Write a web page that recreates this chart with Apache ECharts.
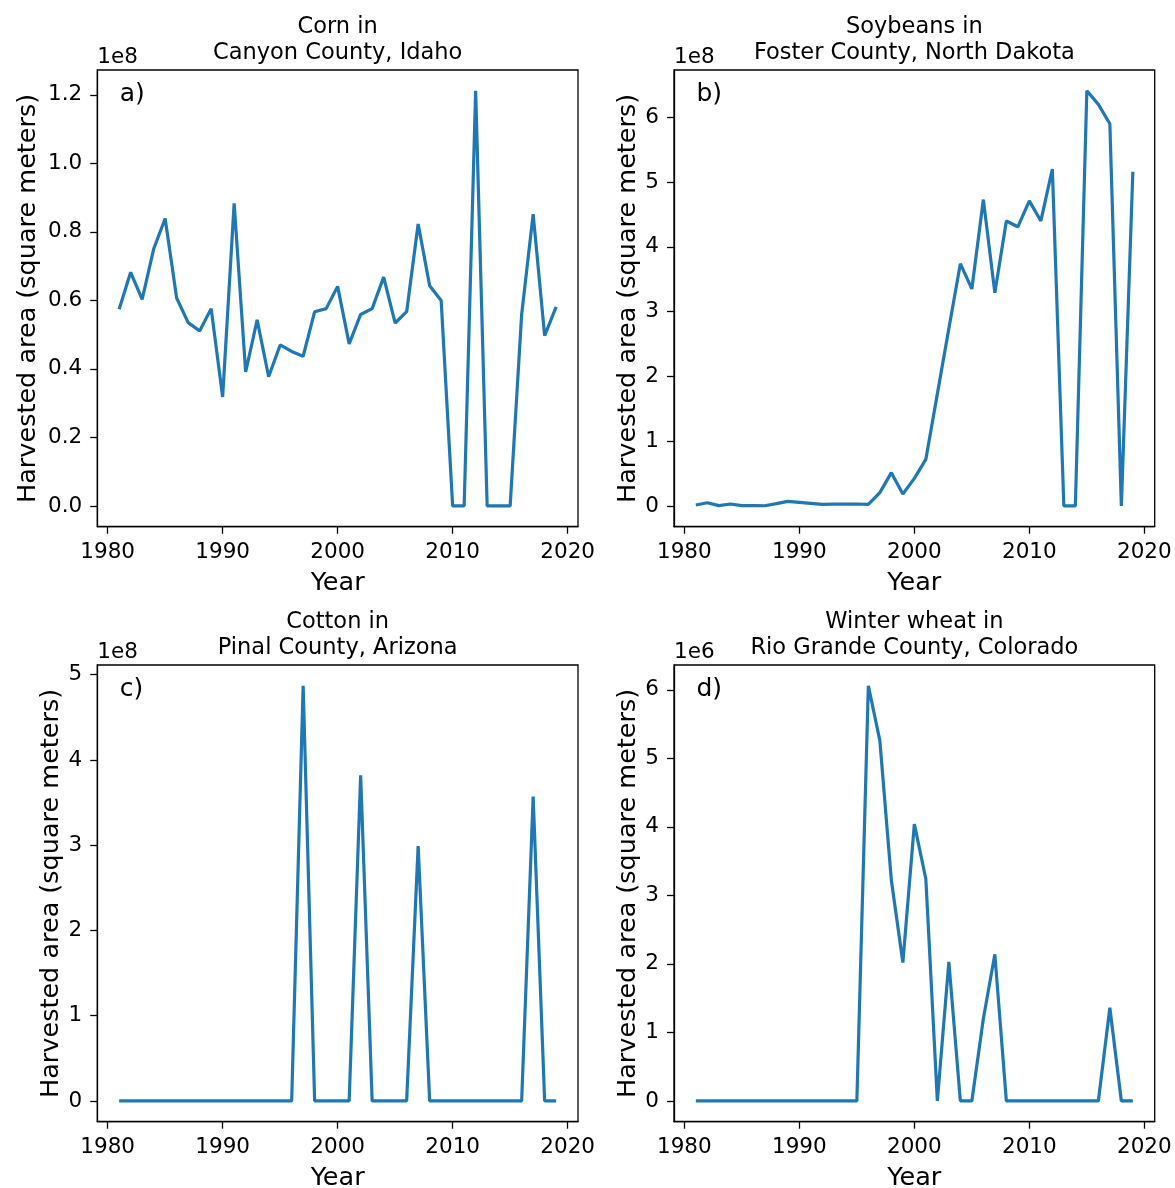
<!DOCTYPE html>
<html>
<head>
<meta charset="utf-8">
<script src="https://cdn.jsdelivr.net/npm/echarts@6/dist/echarts.min.js"></script>
<style>
  html, body { margin: 0; padding: 0; background: #fff; }
  #main { width: 1175px; height: 1188px; }
</style>
</head>
<body>
<div id="main"></div>
<script>
// years on the x axis (same for all four panels)
var years = [1981, 1982, 1983, 1984, 1985, 1986, 1987, 1988, 1989, 1990,
             1991, 1992, 1993, 1994, 1995, 1996, 1997, 1998, 1999, 2000,
             2001, 2002, 2003, 2004, 2005, 2006, 2007, 2008, 2009, 2010,
             2011, 2012, 2013, 2014, 2015, 2016, 2017, 2018, 2019];

// harvested area, in units of the offset shown above each axis (1e8 / 1e6 m2)
var cornArea = [0.574, 0.682, 0.603, 0.750, 0.839, 0.607, 0.535, 0.511, 0.576, 0.318,
                0.883, 0.391, 0.543, 0.377, 0.470, 0.451, 0.437, 0.567, 0.576, 0.641,
                0.473, 0.559, 0.576, 0.668, 0.534, 0.567, 0.823, 0.643, 0.600, 0,
                0, 1.212, 0, 0, 0, 0.559, 0.852, 0.497, 0.581];
var soyArea = [0.015, 0.05, 0.005, 0.03, 0.005, 0.005, 0.003, 0.035, 0.07, 0.055,
               0.04, 0.025, 0.027, 0.027, 0.03, 0.025, 0.205, 0.514, 0.185, 0.426,
               0.72, 1.73, 2.74, 3.74, 3.35, 4.73, 3.29, 4.40, 4.31, 4.71,
               4.40, 5.20, 0, 0, 6.41, 6.20, 5.90, 0, 5.16];
var cottonArea = [0, 0, 0, 0, 0, 0, 0, 0, 0, 0,
                  0, 0, 0, 0, 0, 0, 4.87, 0, 0, 0,
                  0, 3.82, 0, 0, 0, 0, 2.99, 0, 0, 0,
                  0, 0, 0, 0, 0, 0, 3.57, 0, 0];
var wheatArea = [0, 0, 0, 0, 0, 0, 0, 0, 0, 0,
                 0, 0, 0, 0, 0, 6.06, 5.26, 3.22, 2.02, 4.04,
                 3.24, 0, 2.03, 0, 0, 1.20, 2.14, 0, 0, 0,
                 0, 0, 0, 0, 0, 0, 1.36, 0, 0];

var yearTicks = [1980, 1990, 2000, 2010, 2020];
var cornTicks = [0, 0.2, 0.4, 0.6, 0.8, 1.0, 1.2];
var soyTicks = [0, 1, 2, 3, 4, 5, 6];
var cottonTicks = [0, 1, 2, 3, 4, 5];
var wheatTicks = [0, 1, 2, 3, 4, 5, 6];

var titles = ['Corn in\nCanyon County, Idaho',
              'Soybeans in\nFoster County, North Dakota',
              'Cotton in\nPinal County, Arizona',
              'Winter wheat in\nRio Grande County, Colorado'];
var panelTags = ['a)', 'b)', 'c)', 'd)'];
var offsets = ['1e8', '1e8', '1e8', '1e6'];

var FONT = 'DejaVu Sans';
var BLUE = '#1f77b4';

var panels = [
  { values: cornArea,   ticks: cornTicks,   digits: 1, left: 97.3, top: 70,  gap: 56 },
  { values: soyArea,    ticks: soyTicks,    digits: 0, left: 674,  top: 70,  gap: 33 },
  { values: cottonArea, ticks: cottonTicks, digits: 0, left: 97.3, top: 665, gap: 33 },
  { values: wheatArea,  ticks: wheatTicks,  digits: 0, left: 674,  top: 665, gap: 33 }
];
var W = 480.7, H = 456.7;

// matplotlib-like 5% margins
function padRange(arr) {
  var lo = Math.min.apply(null, arr), hi = Math.max.apply(null, arr);
  var m = (hi - lo) * 0.05;
  return [lo - m, hi + m];
}
var xr = padRange(years);

var grid = [], xAxis = [], yAxis = [], series = [], title = [], graphic = [];

panels.forEach(function (p, i) {
  var yr = padRange(p.values);
  grid.push({
    left: p.left, top: p.top, width: W, height: H,
    outerBoundsMode: 'none', containLabel: false,
    show: true, borderColor: '#000', borderWidth: 1.3, backgroundColor: '#fff'
  });
  xAxis.push({
    gridIndex: i, type: 'value', min: xr[0], max: xr[1],
    name: 'Year', nameLocation: 'middle', nameGap: 44,
    nameTextStyle: { fontFamily: FONT, fontSize: 25.5, color: '#000' },
    axisLine: { show: true, onZero: false, lineStyle: { color: '#000', width: 1.3 } },
    axisTick: { show: true, length: 7, customValues: yearTicks, lineStyle: { color: '#000', width: 1.3 } },
    axisLabel: {
      customValues: yearTicks, margin: 15, fontFamily: FONT, fontSize: 21.5, color: '#000',
      formatter: function (v) { return String(v); }
    },
    splitLine: { show: false }
  });
  yAxis.push({
    gridIndex: i, type: 'value', min: yr[0], max: yr[1],
    name: 'Harvested area (square meters)', nameLocation: 'middle', nameGap: p.gap,
    nameTextStyle: { fontFamily: FONT, fontSize: 25.5, color: '#000' },
    axisLine: { show: true, onZero: false, lineStyle: { color: '#000', width: 1.3 } },
    axisTick: { show: true, length: 7, customValues: p.ticks, lineStyle: { color: '#000', width: 1.3 } },
    axisLabel: {
      customValues: p.ticks, margin: 15, fontFamily: FONT, fontSize: 21.5, color: '#000',
      formatter: (function (d) { return function (v) { return v.toFixed(d); }; })(p.digits)
    },
    splitLine: { show: false }
  });
  series.push({
    type: 'line', xAxisIndex: i, yAxisIndex: i,
    data: years.map(function (y, k) { return [y, p.values[k]]; }),
    showSymbol: false, symbol: 'none', silent: true,
    lineStyle: { color: BLUE, width: 3.2 }
  });
  title.push({
    text: titles[i], left: p.left + W / 2, top: p.top - 55.5, textAlign: 'center', padding: 0,
    textStyle: { fontFamily: FONT, fontSize: 22.5, fontWeight: 'normal', color: '#000', lineHeight: 26 }
  });
  graphic.push({
    type: 'text', x: p.left, y: p.top - 12.5,
    style: { text: offsets[i], font: '21.5px "' + FONT + '"', fill: '#000', verticalAlign: 'middle' }
  });
  graphic.push({
    type: 'text', x: p.left + 22.5, y: p.top + 24,
    style: { text: panelTags[i], font: '25px "' + FONT + '"', fill: '#000', verticalAlign: 'middle' }
  });
});

var chart = echarts.init(document.getElementById('main'), null, { renderer: 'canvas' });
chart.setOption({
  backgroundColor: '#fff',
  animation: false,
  title: title,
  grid: grid,
  xAxis: xAxis,
  yAxis: yAxis,
  series: series,
  graphic: graphic
});
</script>
</body>
</html>
